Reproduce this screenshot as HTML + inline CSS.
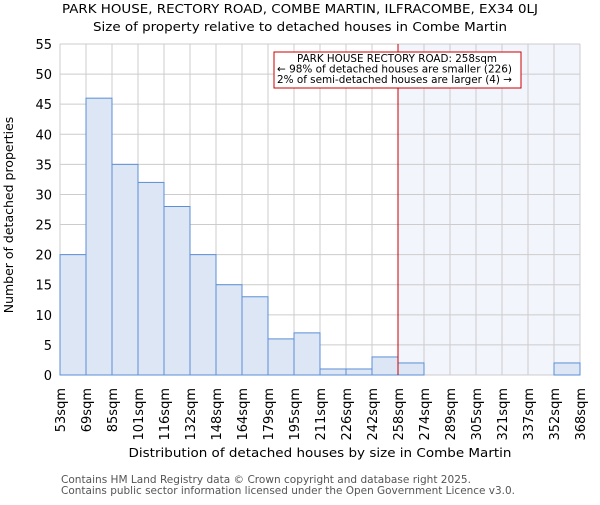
<!DOCTYPE html>
<html><head><meta charset="utf-8"><style>
body{margin:0;background:#fff;}
svg{font-family:"DejaVu Sans","Liberation Sans",sans-serif;}
</style></head><body>
<svg id="c" width="600" height="500" xmlns="http://www.w3.org/2000/svg">
<text x="300" y="13" text-anchor="middle" font-size="12.5" textLength="476" lengthAdjust="spacingAndGlyphs">PARK HOUSE, RECTORY ROAD, COMBE MARTIN, ILFRACOMBE, EX34 0LJ</text>
<text x="300" y="31" text-anchor="middle" font-size="12.5" textLength="414" lengthAdjust="spacingAndGlyphs">Size of property relative to detached houses in Combe Martin</text>
<g id="plot"></g>
<text x="320" y="457" text-anchor="middle" font-size="12.5" textLength="383" lengthAdjust="spacingAndGlyphs">Distribution of detached houses by size in Combe Martin</text>
<text transform="translate(13,215) rotate(-90)" text-anchor="middle" font-size="12.5">Number of detached properties</text>
<text x="61" y="483" font-size="10.5" fill="#555" textLength="410" lengthAdjust="spacingAndGlyphs">Contains HM Land Registry data © Crown copyright and database right 2025.</text>
<text x="61" y="494" font-size="10.5" fill="#555" textLength="454" lengthAdjust="spacingAndGlyphs">Contains public sector information licensed under the Open Government Licence v3.0.</text>
</svg>
<script>
const categories=["53sqm","69sqm","85sqm","101sqm","116sqm","132sqm","148sqm","164sqm","179sqm","195sqm","211sqm","226sqm","242sqm","258sqm","274sqm","289sqm","305sqm","321sqm","337sqm","352sqm","368sqm"];
const counts=[20,46,35,32,28,20,15,13,6,7,1,1,3,2,0,0,0,0,0,2];
const yTicks=[0,5,10,15,20,25,30,35,40,45,50,55];
const markerIndex=13;
const NS="http://www.w3.org/2000/svg";
const L=60,R=580,T=44,B=375,yMax=55;
const bw=(R-L)/counts.length;
const xs=i=>L+i*bw;
const ys=v=>B-(v/yMax)*(B-T);
const g=document.getElementById('plot');
function el(t,a){const e=document.createElementNS(NS,t);for(const k in a)e.setAttribute(k,a[k]);g.appendChild(e);return e;}
let e=el('rect',{x:xs(markerIndex),y:T,width:R-xs(markerIndex),height:B-T,fill:'#f3f5fc'});


yTicks.forEach(v=>{
 let l=el('line',{x1:L,x2:R,y1:ys(v),y2:ys(v),stroke:'#cccccc'});
 
 
 let t=el('text',{x:L-8,y:ys(v)+5,'text-anchor':'end','font-size':13});
 t.textContent=v;
 
 
});
categories.forEach((c,i)=>{
 let l=el('line',{x1:xs(i),x2:xs(i),y1:T,y2:B,stroke:'#cccccc'});
 
 
 let t=el('text',{transform:`translate(${xs(i)+5},388) rotate(-90)`,'text-anchor':'end','font-size':13});
 t.textContent=c;
 
 
});
counts.forEach((v,i)=>{
 if(v<=0)return;
 let r=el('rect',{x:xs(i),y:ys(v),width:bw,height:B-ys(v),fill:'#dce6f4',stroke:'#5b8fd6','stroke-width':1});
 
 
});
let m=el('line',{x1:xs(markerIndex),x2:xs(markerIndex),y1:T,y2:B,stroke:'#cc0000','stroke-width':1});


let box=el('rect',{x:274,y:52,width:247,height:36,fill:'#fff',stroke:'#cc0000'});


const lens=[200,235,235];
["PARK HOUSE RECTORY ROAD: 258sqm","← 98% of detached houses are smaller (226)","2% of semi-detached houses are larger (4) →"].forEach((s,i)=>{
 let t=el('text',{x:i==0?397:277,y:62+i*10.5,'text-anchor':i==0?'middle':'start','font-size':10.5,textLength:lens[i],lengthAdjust:'spacingAndGlyphs'});
 t.textContent=s;
 
 
});
</script>
</body></html>
